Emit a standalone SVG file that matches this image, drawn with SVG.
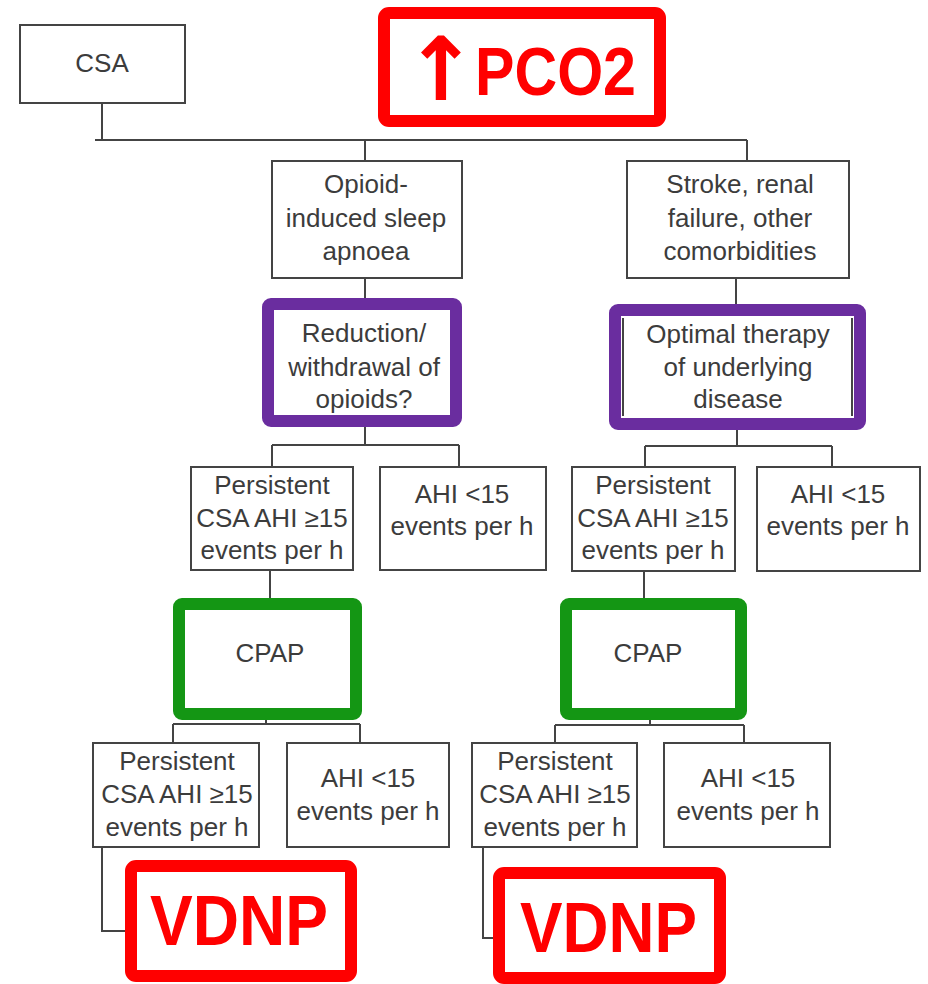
<svg xmlns="http://www.w3.org/2000/svg" width="928" height="984" viewBox="0 0 928 984">
<style>
.box{fill:#fff;stroke:#444;stroke-width:2}
.pur{fill:#fff;stroke:#6a2d9f;stroke-width:12}
.grn{fill:#fff;stroke:#149614;stroke-width:12}
.red{fill:#fff;stroke:#ff0000;stroke-width:12}
.t{font-family:"Liberation Sans",Arial,sans-serif;font-size:26px;fill:#3c3c3c;text-anchor:middle}
.r{font-family:"Liberation Sans",Arial,sans-serif;font-weight:bold;fill:#ff0000}
.ln{fill:none;stroke:#444;stroke-width:2}
</style>
<rect width="928" height="984" fill="#fff"/>
<g id="connectors">
<path class="ln" d="M102 103 V140 M95 140 H747 M365 140 V161 M747 140 V161"/>
<path class="ln" d="M365 278 V298 M736 278 V304"/>
<path class="ln" d="M365 427 V445 M272 445 H459 M272 445 V467 M459 445 V467"/>
<path class="ln" d="M737 430 V446 M645 446 H832 M645 446 V467 M832 446 V467"/>
<path class="ln" d="M270 570 V598 M644 571 V598"/>
<path class="ln" d="M266 720 V724 M173 724 H360 M173 724 V743 M360 724 V743"/>
<path class="ln" d="M650 720 V725 M555 725 H744 M555 725 V743 M744 725 V743"/>
<path class="ln" d="M102 847 V931 H125 M483 847 V938 H493"/>
</g>
<g id="csa"><rect class="box" x="20" y="25" width="165" height="78"/><text class="t" x="102" y="72">CSA</text></g>
<g id="pco2"><rect class="red" x="384" y="13" width="276" height="108" rx="5"/><text class="r" y="95" font-size="68"><tspan x="404" y="100" font-family="DejaVu Sans, sans-serif" font-size="88">↑</tspan><tspan x="475" y="95" textLength="161" lengthAdjust="spacingAndGlyphs">PCO2</tspan></text></g>
<g id="opioid"><rect class="box" x="272" y="161" width="190" height="117"/><text class="t" x="366" y="193">Opioid-</text><text class="t" x="366" y="227">induced sleep</text><text class="t" x="366" y="260">apnoea</text></g>
<g id="stroke"><rect class="box" x="627" y="161" width="222" height="117"/><text class="t" x="740" y="193">Stroke, renal</text><text class="t" x="740" y="227">failure, other</text><text class="t" x="740" y="260">comorbidities</text></g>
<g id="reduction"><rect class="pur" x="268" y="304" width="188" height="117" rx="3"/><text class="t" x="364" y="342">Reduction/</text><text class="t" x="364" y="376">withdrawal of</text><text class="t" x="364" y="408">opioids?</text></g>
<g id="optimal"><rect class="pur" x="615" y="310" width="245" height="114" rx="3"/><path class="ln" d="M623 318 V416 M852 318 V416" stroke-width="1.5"/><text class="t" x="738" y="343">Optimal therapy</text><text class="t" x="738" y="376">of underlying</text><text class="t" x="738" y="408">disease</text></g>
<g id="pers1"><rect class="box" x="191" y="467" width="162" height="103"/><text class="t" x="272" y="494">Persistent</text><text class="t" x="272" y="527">CSA AHI ≥15</text><text class="t" x="272" y="559">events per h</text></g>
<g id="ahi1"><rect class="box" x="380" y="467" width="166" height="103"/><text class="t" x="462" y="503">AHI &lt;15</text><text class="t" x="462" y="535">events per h</text></g>
<g id="pers2"><rect class="box" x="572" y="467" width="163" height="104"/><text class="t" x="653" y="494">Persistent</text><text class="t" x="653" y="527">CSA AHI ≥15</text><text class="t" x="653" y="559">events per h</text></g>
<g id="ahi2"><rect class="box" x="757" y="467" width="163" height="104"/><text class="t" x="838" y="503">AHI &lt;15</text><text class="t" x="838" y="535">events per h</text></g>
<g id="cpap1"><rect class="grn" x="179" y="604" width="177" height="110" rx="3"/><text class="t" x="270" y="662">CPAP</text></g>
<g id="cpap2"><rect class="grn" x="566" y="604" width="175" height="110" rx="3"/><text class="t" x="648" y="662">CPAP</text></g>
<g id="pers3"><rect class="box" x="93" y="743" width="166" height="104"/><text class="t" x="177" y="770">Persistent</text><text class="t" x="177" y="803">CSA AHI ≥15</text><text class="t" x="177" y="836">events per h</text></g>
<g id="ahi3"><rect class="box" x="287" y="743" width="162" height="104"/><text class="t" x="368" y="787">AHI &lt;15</text><text class="t" x="368" y="820">events per h</text></g>
<g id="pers4"><rect class="box" x="472" y="743" width="165" height="104"/><text class="t" x="555" y="770">Persistent</text><text class="t" x="555" y="803">CSA AHI ≥15</text><text class="t" x="555" y="836">events per h</text></g>
<g id="ahi4"><rect class="box" x="664" y="743" width="166" height="104"/><text class="t" x="748" y="787">AHI &lt;15</text><text class="t" x="748" y="820">events per h</text></g>
<g id="vdnp1"><rect class="red" x="131" y="866" width="220" height="110" rx="5"/><text class="r" x="150" y="945" font-size="70" textLength="178" lengthAdjust="spacingAndGlyphs">VDNP</text></g>
<g id="vdnp2"><rect class="red" x="499" y="873" width="221" height="105" rx="5"/><text class="r" x="520" y="952" font-size="70" textLength="177" lengthAdjust="spacingAndGlyphs">VDNP</text></g>
</svg>
